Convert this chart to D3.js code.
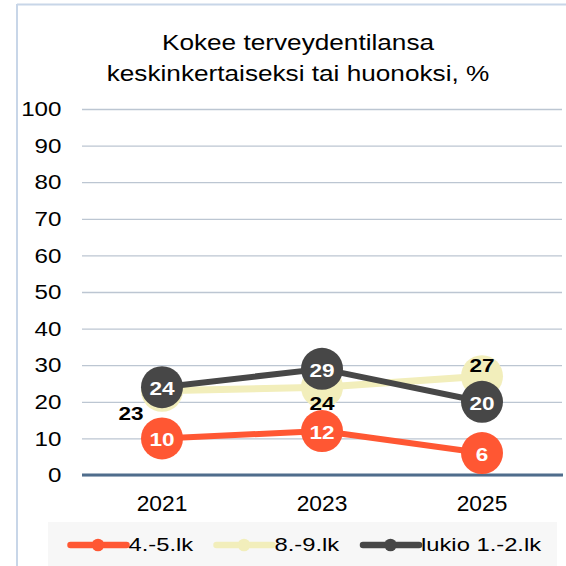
<!DOCTYPE html>
<html><head><meta charset="utf-8">
<script src="https://cdn.jsdelivr.net/npm/d3@7"></script>
<style>html,body{margin:0;padding:0;background:#fff;}svg{display:block;font-family:"Liberation Sans",Arial,sans-serif;}</style>
</head><body>
<script>
const years = ["2021", "2023", "2025"];
const seriesNames = ["4.-5.lk", "8.-9.lk", "lukio 1.-2.lk"];
const valuesGrade4_5 = [10, 12, 6];
const valuesGrade8_9 = [23, 24, 27];
const valuesLukio = [24, 29, 20];
const yTicks = [0, 10, 20, 30, 40, 50, 60, 70, 80, 90, 100];
const titleLines = ["Kokee terveydentilansa", "keskinkertaiseksi tai huonoksi, %"];

const colors = ["#ff5733", "#f2eebb", "#474747"];
const series = [valuesGrade4_5, valuesGrade8_9, valuesLukio];

const W = 566, H = 566;
const svg = d3.select("body").append("svg").attr("width", W).attr("height", H);

// frame
svg.append("line").attr("x1", 17).attr("x2", 566).attr("y1", 4.5).attr("y2", 4.5).attr("stroke", "#c8d6e8").attr("stroke-width", 2);
svg.append("line").attr("x1", 17).attr("x2", 17).attr("y1", 4).attr("y2", 566).attr("stroke", "#c8d6e8").attr("stroke-width", 2);

const x = d3.scaleBand().domain(years).range([82, 562]);
const y = d3.scaleLinear().domain([0, 100]).range([475, 109]);

function stext(g, tx, ty, str, opts) {
  return g.append("text")
    .attr("transform", `translate(${tx},${ty}) scale(${opts.sx},1)`)
    .attr("text-anchor", opts.anchor || "middle")
    .attr("dominant-baseline", opts.baseline || "auto")
    .attr("font-size", opts.size)
    .attr("font-weight", opts.weight || "normal")
    .attr("fill", opts.fill || "#000")
    .text(str);
}

// title
titleLines.forEach((l, i) => stext(svg, 298, 50 + i * 31, l, {size: 22, sx: 1.19}));

// y axis with gridlines
const yAxis = d3.axisLeft(y).tickValues(yTicks).tickSize(-480).tickPadding(0);
const yg = svg.append("g").attr("transform", "translate(82,0)").call(yAxis);
yg.select(".domain").remove();
yg.selectAll(".tick line").attr("stroke", "#bcc6d2").attr("stroke-width", 1.3);
yg.selectAll(".tick text")
  .attr("x", 0).attr("dy", null)
  .attr("font-size", 19.5).attr("fill", "#000")
  .attr("font-family", "Liberation Sans, Arial, sans-serif")
  .attr("dominant-baseline", "central")
  .attr("text-anchor", "end")
  .attr("transform", `translate(-20.5,0) scale(1.24,1)`);

// baseline
svg.append("line").attr("x1", 82).attr("x2", 563).attr("y1", y(0)).attr("y2", y(0)).attr("stroke", "#4f6d8c").attr("stroke-width", 3.2);

// x axis
const xAxis = d3.axisBottom(x).tickSize(0).tickPadding(0);
const xg = svg.append("g").attr("transform", "translate(0,504)").call(xAxis);
xg.select(".domain").remove();
xg.selectAll(".tick text").attr("y", 0).attr("dy", null)
  .attr("dominant-baseline", "central")
  .attr("font-size", 21.5).attr("fill", "#000")
  .attr("font-family", "Liberation Sans, Arial, sans-serif")
  .attr("transform", "scale(1.06,1)");

// lines and markers
const cx = d => x(d) + x.bandwidth() / 2;
const lineGen = d3.line().x((d, i) => cx(years[i])).y(d => y(d));
const R = 21;
series.forEach((vals, si) => {
  svg.append("path").datum(vals).attr("d", lineGen)
    .attr("fill", "none").attr("stroke", colors[si]).attr("stroke-width", si === 1 ? 7 : 6)
    .attr("stroke-linejoin", "round");
  svg.append("g").selectAll("circle").data(vals).join("circle")
    .attr("cx", (d, i) => cx(years[i])).attr("cy", d => y(d)).attr("r", R)
    .attr("fill", colors[si]);
});

// data labels
const labelG = svg.append("g");
[0, 2].forEach(si => {
  series[si].forEach((v, i) => {
    stext(labelG, cx(years[i]), y(v) + 1, String(v), {size: 18.5, weight: "bold", fill: "#fff", baseline: "central", sx: 1.22});
  });
});
// yellow series labels placed beside markers
const yellowOffsets = [[-31, 22], [0, 16], [0, -11]];
series[1].forEach((v, i) => {
  const o = yellowOffsets[i];
  stext(labelG, cx(years[i]) + o[0], y(v) + o[1], String(v), {size: 18.5, weight: "bold", fill: "#000", baseline: "central", sx: 1.22});
});

// legend
svg.append("rect").attr("x", 48).attr("y", 522).attr("width", 509).attr("height", 44).attr("fill", "#f7f7f7");
const legendX = [70.5, 216.5, 363];
seriesNames.forEach((n, i) => {
  const lx = legendX[i];
  const ly = 545;
  svg.append("line").attr("x1", lx).attr("x2", lx + 56).attr("y1", ly).attr("y2", ly)
    .attr("stroke", colors[i]).attr("stroke-width", 6.5).attr("stroke-linecap", "round");
  svg.append("circle").attr("cx", lx + 27.5).attr("cy", ly).attr("r", 6.3).attr("fill", colors[i]);
  stext(svg, lx + 58, ly, n, {size: 19, anchor: "start", baseline: "central", sx: 1.25});
});
</script>
</body></html>
